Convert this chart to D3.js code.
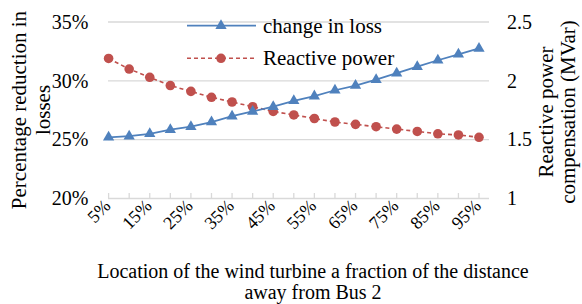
<!DOCTYPE html>
<html><head><meta charset="utf-8">
<script src="https://cdn.jsdelivr.net/npm/d3@7"></script>
<style>
html,body{margin:0;padding:0;background:#fff;}
svg{display:block;font-family:"Liberation Serif","Times New Roman",serif;}
</style></head>
<body><svg id="c" width="582" height="304"></svg>
<script>
const categories = ["5%","10%","15%","20%","25%","30%","35%","40%","45%","50%","55%","60%","65%","70%","75%","80%","85%","90%","95%"];
const lossChange = [25.2,25.3,25.5,25.85,26.1,26.5,27.0,27.4,27.8,28.3,28.7,29.2,29.6,30.1,30.65,31.2,31.75,32.25,32.75];
const reactivePower = [2.19,2.10,2.03,1.96,1.91,1.86,1.82,1.78,1.74,1.71,1.68,1.65,1.63,1.61,1.59,1.57,1.55,1.54,1.52];
const leftTicks = [20,25,30,35];
const rightTicks = [1,1.5,2,2.5];
const seriesNames = ["change in loss","Reactive power"];

const svg = d3.select("#c");
const blue = "#4F81BD", red = "#C0504D", grid = "#D9D9D9";
const x = d3.scalePoint().domain(categories).range([108.6,479]);
const yL = d3.scaleLinear().domain([20,35]).range([198.5,22]);
const yR = d3.scaleLinear().domain([1,2.5]).range([198.5,22]);
const gx0 = 108, gx1 = 489;

// gridlines
svg.append("g").selectAll("line").data(leftTicks).join("line")
  .attr("x1",gx0).attr("x2",gx1).attr("y1",d=>yL(d)).attr("y2",d=>yL(d))
  .attr("stroke",grid).attr("stroke-width",1.3);

// x ticks (upward)
svg.append("g").selectAll("line").data(categories).join("line")
  .attr("x1",d=>x(d)).attr("x2",d=>x(d)).attr("y1",yL(20)-5.5).attr("y2",yL(20))
  .attr("stroke",grid).attr("stroke-width",1.3);

// left tick labels
svg.append("g").selectAll("text").data(leftTicks).join("text")
  .attr("x",88.5).attr("y",d=>yL(d)+6.8).attr("text-anchor","end")
  .attr("font-size",20).attr("fill","#000").text(d=>d+"%");

// right tick labels
svg.append("g").selectAll("text").data(rightTicks).join("text")
  .attr("x",507).attr("y",d=>yR(d)+6.8).attr("text-anchor","start")
  .attr("font-size",20).attr("fill","#000").text(d=>d);

// x tick labels (every other)
svg.append("g").selectAll("text").data(categories.filter((d,i)=>i%2===0)).join("text")
  .attr("transform",d=>`translate(${x(d)+3},${207}) rotate(-45)`)
  .attr("text-anchor","end").attr("font-size",18).attr("fill","#000").text(d=>d);

// axis titles
const lt = svg.append("text").attr("transform","translate(0,110) rotate(-90)")
  .attr("text-anchor","middle").attr("font-size",21).attr("fill","#000");
lt.append("tspan").attr("x",0).attr("y",26).text("Percentage reduction in");
lt.append("tspan").attr("x",0).attr("y",50).text("losses");

const rt = svg.append("text").attr("transform","translate(0,112) rotate(-90)")
  .attr("text-anchor","middle").attr("font-size",21).attr("fill","#000");
rt.append("tspan").attr("x",0).attr("y",553).text("Reactive power");
rt.append("tspan").attr("x",0).attr("y",575).text("compensation (MVar)");

const xt = svg.append("text").attr("text-anchor","middle").attr("font-size",20).attr("fill","#000");
xt.append("tspan").attr("x",313).attr("y",278).text("Location of the wind turbine a fraction of the distance");
xt.append("tspan").attr("x",313).attr("y",299).text("away from Bus 2");

// lines
const lineL = d3.line().x((d,i)=>x(categories[i])).y(d=>yL(d));
const lineR = d3.line().x((d,i)=>x(categories[i])).y(d=>yR(d));
svg.append("path").datum(reactivePower).attr("d",lineR).attr("fill","none")
  .attr("stroke",red).attr("stroke-width",1.6).attr("stroke-dasharray","4,3");
svg.append("path").datum(lossChange).attr("d",lineL).attr("fill","none")
  .attr("stroke",blue).attr("stroke-width",1.8);

const tri = d3.symbol().type(d3.symbolTriangle).size(55);
svg.append("g").selectAll("circle").data(reactivePower).join("circle")
  .attr("cx",(d,i)=>x(categories[i])).attr("cy",d=>yR(d)).attr("r",4.8).attr("fill",red);
svg.append("g").selectAll("path").data(lossChange).join("path")
  .attr("d",tri).attr("transform",(d,i)=>`translate(${x(categories[i])},${yL(d)})`).attr("fill",blue);

// legend
const lg = svg.append("g");
const rows = [{y:25.7,c:blue,dash:null,m:"tri"},{y:58.3,c:red,dash:"4,3",m:"circ"}];
rows.forEach((r,i)=>{
  lg.append("line").attr("x1",187).attr("x2",256).attr("y1",r.y).attr("y2",r.y)
    .attr("stroke",r.c).attr("stroke-width",i?1.6:1.8).attr("stroke-dasharray",r.dash);
  if(r.m==="tri") lg.append("path").attr("d",tri).attr("transform",`translate(221,${r.y})`).attr("fill",r.c);
  else lg.append("circle").attr("cx",221).attr("cy",r.y).attr("r",4.8).attr("fill",r.c);
  lg.append("text").attr("x",263).attr("y",r.y+7).attr("font-size",21).attr("fill","#000").text(seriesNames[i]);
});
</script></body></html>
